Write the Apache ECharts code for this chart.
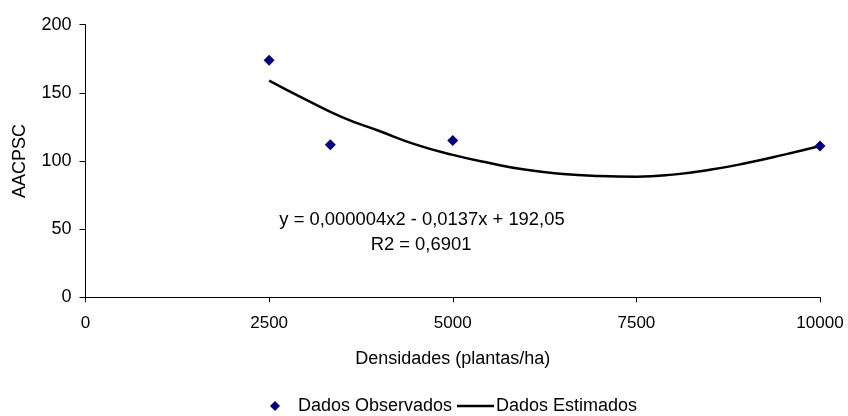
<!DOCTYPE html>
<html>
<head>
<meta charset="utf-8">
<script src="https://cdn.jsdelivr.net/npm/echarts@6/dist/echarts.min.js"></script>
<style>
  html, body { margin: 0; padding: 0; background: #fff; }
  #chart { width: 848px; height: 416px; }
</style>
</head>
<body>
<div id="chart"></div>
<script>
// observed points (density, AACPSC)
var obsX = [2500, 3333, 5000, 10000];
var obsY = [174, 112, 115, 111];

// fitted curve
var fitX = [2500, 3000, 3500, 4000, 4500, 5000, 5500, 6000, 6500, 7000, 7500, 8000, 8500, 9000, 9500, 10000];
var fitY = [159, 145, 132, 122, 112, 104.5, 98.5, 93.5, 90.5, 89, 88.5, 90, 93.5, 98.5, 104.5, 111];

var xTicks = [0, 2500, 5000, 7500, 10000];
var yTicks = [0, 50, 100, 150, 200];

var eqLine = 'y = 0,000004x2 - 0,0137x + 192,05';
var r2Line = 'R2 = 0,6901';

var font = 'Liberation Sans, Arial, sans-serif';

var obsData = obsX.map(function (x, i) { return [x, obsY[i]]; });
var fitData = fitX.map(function (x, i) { return [x, fitY[i]]; });

var chart = echarts.init(document.getElementById('chart'));
chart.setOption({
  backgroundColor: '#fff',
  animation: false,
  textStyle: { fontFamily: font },
  grid: { left: 85.5, right: 28, top: 24.7, bottom: 118.7 },
  xAxis: {
    type: 'value',
    min: xTicks[0],
    max: xTicks[xTicks.length - 1],
    interval: 2500,
    name: 'Densidades (plantas/ha)',
    nameLocation: 'middle',
    nameGap: 53,
    nameTextStyle: { color: '#000', fontSize: 18, fontFamily: font },
    axisLine: { lineStyle: { color: '#000', width: 1 } },
    axisTick: { show: true, length: 5, lineStyle: { color: '#000' } },
    axisLabel: {
      color: '#000', fontSize: 17, margin: 18, fontFamily: font,
      formatter: function (v) { return String(v); }
    },
    splitLine: { show: false }
  },
  yAxis: {
    type: 'value',
    min: yTicks[0],
    max: yTicks[yTicks.length - 1],
    interval: 50,
    name: 'AACPSC',
    nameLocation: 'middle',
    nameGap: 56,
    nameTextStyle: { color: '#000', fontSize: 18, fontFamily: font },
    axisLine: { show: true, lineStyle: { color: '#000', width: 1 } },
    axisTick: { show: true, length: 6, lineStyle: { color: '#000' } },
    axisLabel: { color: '#000', fontSize: 18, margin: 14, fontFamily: font },
    splitLine: { show: false }
  },
  legend: [
    {
      data: [{ name: 'Dados Observados', icon: 'diamond' }],
      left: 270,
      top: 397,
      padding: 0,
      itemWidth: 10,
      itemHeight: 10,
      textStyle: { color: '#000', fontSize: 18, fontFamily: font, padding: [0, 0, 0, 13] }
    },
    {
      data: [{ name: 'Dados Estimados', icon: 'rect' }],
      left: 457,
      top: 397,
      padding: 0,
      itemWidth: 37,
      itemHeight: 2.5,
      itemStyle: { color: '#000' },
      textStyle: { color: '#000', fontSize: 18, fontFamily: font, padding: [0, 0, 0, -3] }
    }
  ],
  graphic: [
    {
      type: 'text',
      style: {
        text: eqLine,
        x: 422,
        y: 220,
        fill: '#000',
        font: '18.4px ' + font,
        align: 'center',
        verticalAlign: 'middle'
      }
    },
    {
      type: 'text',
      style: {
        text: r2Line,
        x: 421,
        y: 245,
        fill: '#000',
        font: '18.4px ' + font,
        align: 'center',
        verticalAlign: 'middle'
      }
    }
  ],
  series: [
    {
      name: 'Dados Estimados',
      type: 'line',
      data: fitData,
      smooth: true,
      showSymbol: false,
      symbol: 'none',
      lineStyle: { color: '#000', width: 2.5 },
      itemStyle: { color: '#000' },
      z: 2
    },
    {
      name: 'Dados Observados',
      type: 'scatter',
      data: obsData,
      symbol: 'diamond',
      symbolSize: 11,
      itemStyle: { color: '#000080', opacity: 1 },
      z: 3
    }
  ]
});
</script>
</body>
</html>
